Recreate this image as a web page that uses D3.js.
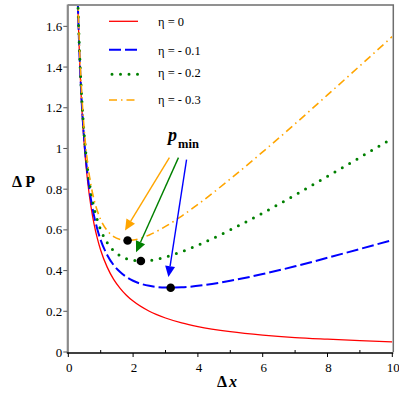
<!DOCTYPE html>
<html><head><meta charset="utf-8">
<script src="https://cdn.jsdelivr.net/npm/d3@7"></script>
<style>body{margin:0;background:#fff}svg{display:block}</style>
</head><body><svg id="c" width="399" height="399" font-family="'Liberation Serif', 'Times New Roman', Times, 'DejaVu Serif', serif"></svg>
<script>
// Data
const xs      = [0.28,0.3,0.35,0.4,0.45,0.5,0.6,0.7,0.8,0.9,1.0,1.2,1.4,1.6,1.8,2.0,2.5,3,3.5,4,5,6,7,8,9,10];
const eta0    = [1.786,1.667,1.429,1.25,1.111,1.0,0.833,0.714,0.625,0.556,0.5,0.417,0.357,0.313,0.278,0.25,0.2,0.167,0.143,0.125,0.1,0.083,0.071,0.063,0.056,0.05];
const eta01   = [1.800,1.682,1.446,1.27,1.134,1.025,0.863,0.749,0.665,0.601,0.55,0.477,0.427,0.393,0.368,0.35,0.325,0.317,0.318,0.325,0.35,0.383,0.421,0.463,0.506,0.55];
const eta02   = [1.814,1.697,1.464,1.29,1.156,1.05,0.893,0.784,0.705,0.646,0.6,0.537,0.497,0.473,0.458,0.45,0.45,0.467,0.493,0.525,0.6,0.683,0.771,0.863,0.956,1.05];
const eta03   = [1.828,1.712,1.481,1.31,1.178,1.075,0.923,0.819,0.745,0.691,0.65,0.597,0.567,0.553,0.548,0.55,0.575,0.617,0.668,0.725,0.85,0.983,1.121,1.263,1.406,1.55];
const seriesNames = ["η = 0","η = - 0.1","η = - 0.2","η = - 0.3"];
const minX = [3.16, 2.24, 1.83];
const minY = [0.316, 0.447, 0.548];
const xTicks = [0,2,4,6,8,10];
const xMinor = [1,3,5,7,9];
const yTicks = [0,0.2,0.4,0.6,0.8,1,1.2,1.4,1.6];
// arrows: [startX, startY, endX, endY] in data units (orange, green, blue)
const arrowFromX = [3.12, 3.40, 3.65];
const arrowFromY = [0.955, 0.955, 0.945];
const arrowToX   = [1.75, 2.09, 3.09];
const arrowToY   = [0.597, 0.49, 0.368];

const svg = d3.select("#c");
const x = d3.scaleLinear([0,10],[68.3,392.3]);
const y = d3.scaleLinear([0,1.7],[352,6]);

const styles = [
  {color:"#ff0000", w:1.3, dash:null, cap:"butt"},
  {color:"#0000ff", w:2, dash:"12,4", cap:"butt"},
  {color:"#008000", w:3, dash:"0,8.5", cap:"round"},
  {color:"#ffa500", w:1.6, dash:"8,4,1.5,4", cap:"butt"}
];
const all = [eta0, eta01, eta02, eta03];

svg.append("clipPath").attr("id","clip").append("rect")
  .attr("x",x(0)).attr("y",y(1.7)).attr("width",x(10)-x(0)).attr("height",y(0)-y(1.7));

// frame (top/right)
svg.append("path").attr("d",`M${x(0)-0.5},${y(1.7)-1}H${x(10)+1}V${y(0)}`)
  .attr("fill","none").attr("stroke","#6e6e6e").attr("stroke-width",1.5);

const line = d3.line().x(d=>x(d[0])).y(d=>y(d[1])).curve(d3.curveMonotoneX);
const g = svg.append("g").attr("clip-path","url(#clip)");
[0,1,2,3].forEach(i=>{
  const s = styles[i];
  g.append("path").datum(xs.map((v,k)=>[v,all[i][k]])).attr("d",line)
   .attr("fill","none").attr("stroke",s.color).attr("stroke-width",s.w)
   .attr("stroke-dasharray",s.dash).attr("stroke-linecap",s.cap);
});

// axes
svg.append("line").attr("x1",x(0)-0.5).attr("x2",x(0)-0.5).attr("y1",y(1.7)-1.5).attr("y2",y(0)+1)
  .attr("stroke","#8a8a8a").attr("stroke-width",2.2);
svg.append("line").attr("x1",x(0)-1.5).attr("x2",x(10)+1).attr("y1",y(0)+1).attr("y2",y(0)+1)
  .attr("stroke","#000").attr("stroke-width",1.4);

const yAx = svg.append("g");
yTicks.forEach(t=>{
  yAx.append("line").attr("x1",x(0)-5).attr("x2",x(0)-1).attr("y1",y(t)).attr("y2",y(t)).attr("stroke","#555").attr("stroke-width",1);
  yAx.append("text").attr("x",x(0)-6).attr("y",y(t)+4.5).attr("text-anchor","end").attr("font-size",13).text(d3.format("~g")(t));
});
const xAx = svg.append("g");
xTicks.forEach(t=>{
  xAx.append("line").attr("x1",x(t)).attr("x2",x(t)).attr("y1",y(0)+1).attr("y2",y(0)+5).attr("stroke","#000").attr("stroke-width",1);
  xAx.append("text").attr("x",x(t)+1).attr("y",y(0)+20).attr("text-anchor","middle").attr("font-size",13).text(t);
});
xMinor.forEach(t=>{
  xAx.append("line").attr("x1",x(t)).attr("x2",x(t)).attr("y1",y(0)+1).attr("y2",y(0)-2).attr("stroke","#000").attr("stroke-width",1);
});

// axis titles
svg.append("text").attr("x",12).attr("y",187).attr("font-size",16).attr("font-weight","bold").text("Δ P");
svg.append("text").attr("x",217).attr("y",387).attr("font-size",16).attr("font-weight","bold")
  .html('Δ<tspan font-style="italic" dx="2">x</tspan>');

// legend
const legY = [21.3, 49.7, 74.3, 100];
const legTY = [26, 55, 77, 103.5];
[0,1,2,3].forEach(i=>{
  const s = styles[i];
  svg.append("line").attr("x1",109).attr("x2",138).attr("y1",legY[i]).attr("y2",legY[i])
    .attr("stroke",s.color).attr("stroke-width",s.w).attr("stroke-dasharray",s.dash).attr("stroke-linecap",s.cap)
    .attr("stroke-dashoffset", i==2 ? -3 : 0);
  svg.append("text").attr("x",158).attr("y",legTY[i]).attr("font-size",12.5).text(seriesNames[i]);
});

// arrows
const arrowColors = ["#ffa500","#008000","#0000ff"];
[0,1,2].forEach(i=>{
  const x1=x(arrowFromX[i]), y1=y(arrowFromY[i]), x2=x(arrowToX[i]), y2=y(arrowToY[i]);
  const dx=x2-x1, dy=y2-y1, L=Math.hypot(dx,dy), ux=dx/L, uy=dy/L;
  const hl=11, hw=5;
  const bx=x2-ux*hl, by=y2-uy*hl;
  svg.append("line").attr("x1",x1).attr("y1",y1).attr("x2",bx).attr("y2",by)
    .attr("stroke",arrowColors[i]).attr("stroke-width",1.4);
  svg.append("path").attr("d",`M${x2},${y2}L${bx-uy*hw},${by+ux*hw}L${bx+uy*hw},${by-ux*hw}Z`)
    .attr("fill",arrowColors[i]);
});

// minimum points
svg.selectAll("circle.m").data(minX).join("circle").attr("class","m")
  .attr("cx",(d)=>x(d)).attr("cy",(d,i)=>y(minY[i])).attr("r",4.3).attr("fill","#000");

// p_min label
svg.append("text").attr("x",x(3.08)).attr("y",y(1.037)).attr("font-size",18).attr("font-weight","bold")
  .attr("font-style","italic").text("p");
svg.append("text").attr("x",x(3.08)+10).attr("y",y(1.037)+7).attr("font-size",12.5).attr("font-weight","bold").text("min");
</script></body></html>
